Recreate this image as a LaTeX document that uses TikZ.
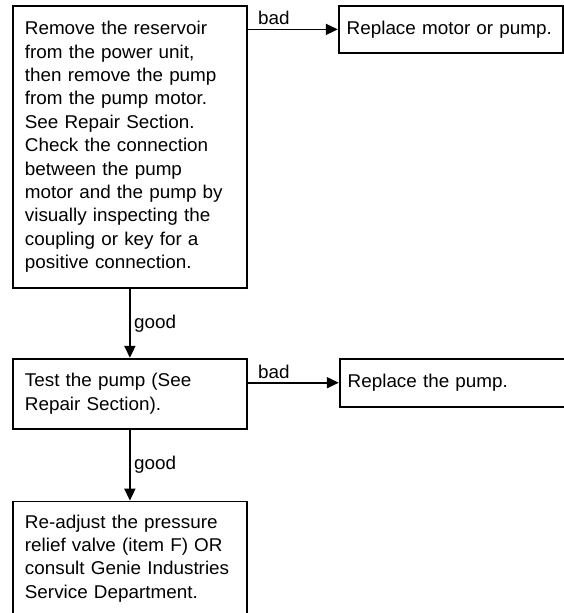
\documentclass[tikz,border=0pt]{standalone}
\usepackage{fontspec}
\setmainfont{Liberation Sans}[FakeStretch=1.02]
\usepackage{tikz}
\usetikzlibrary{arrows.meta, positioning, calc}
\tikzset{
    stepbox/.style={draw, line width=1.8pt, align=left, inner xsep=12pt, text width=210pt,
        font=\fontsize{18.5}{23.4}\selectfont},
    fixbox/.style={stepbox, inner xsep=8pt, text width=208pt},
    flow/.style={-{Triangle[length=12pt, width=11pt]}, line width=1.8pt},
    answer/.style={font=\fontsize{18.5}{21}\selectfont}
}

\begin{document}
\begin{tikzpicture}
    \useasboundingbox (0,0) rectangle (564pt,-613pt);
    \node[stepbox, anchor=north west, minimum height=282pt] (check) at (12pt,-5pt)
        {Remove the reservoir\\ from the power unit,\\ then remove the pump\\ from the pump motor.\\
         See Repair Section.\\ Check the connection\\ between the pump\\ motor and the pump by\\
         visually inspecting the\\ coupling or key for a\\ positive connection.};
    \node[fixbox, below right=0pt and 90pt of check.north east, minimum height=47pt] (motor)
        {Replace motor or pump.};
    \node[stepbox, below=69pt of check, minimum height=70pt] (test)
        {Test the pump (See\\ Repair Section).};
    \node[fixbox, below right=0pt and 91pt of test.north east, minimum height=48pt, text width=214pt] (pump)
        {Replace the pump.};
    \node[stepbox, below=71pt of test, minimum height=114pt] (adjust)
        {Re-adjust the pressure\\ relief valve (item F) OR\\ consult Genie Industries\\ Service Department.};

    \draw[flow] (check.east |- motor.west) -- node[answer, pos=0, above right, xshift=6pt] {bad} (motor.west);
    \draw[flow] (test.east |- pump.west) -- node[answer, pos=0, above right, xshift=6pt] {bad} (pump.west);
    \draw[flow] (check) -- node[answer, right] {good} (test);
    \draw[flow] (test) -- node[answer, right] {good} (adjust);
\end{tikzpicture}
\end{document}
